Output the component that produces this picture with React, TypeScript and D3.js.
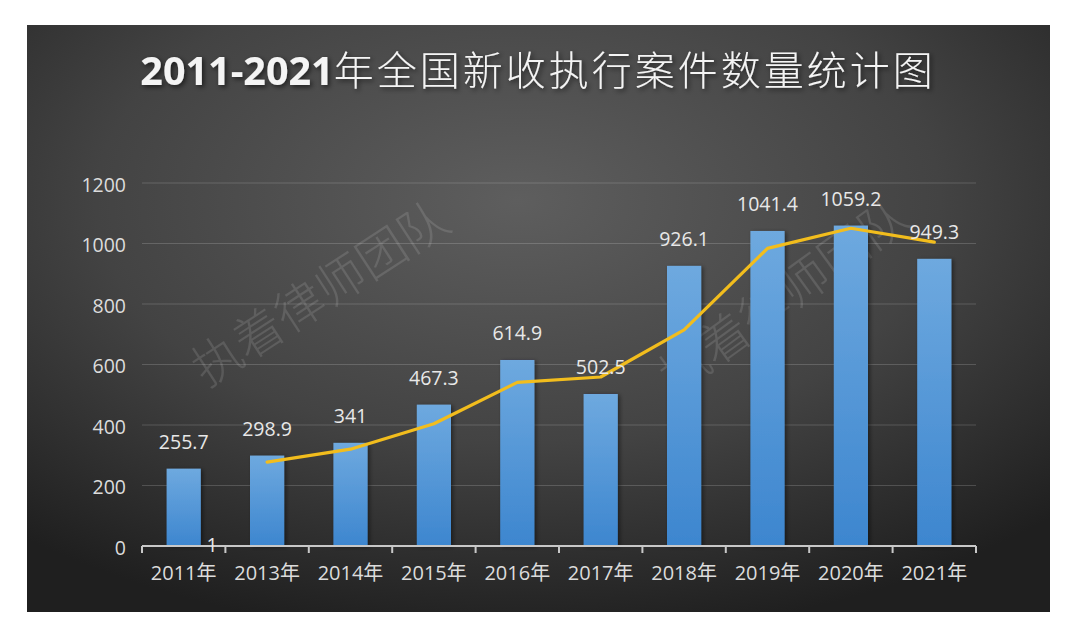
import React from "react";
import * as d3 from "d3";

const categories = ["2011年", "2013年", "2014年", "2015年", "2016年", "2017年", "2018年", "2019年", "2020年", "2021年"];
const caseValues = [255.7, 298.9, 341, 467.3, 614.9, 502.5, 926.1, 1041.4, 1059.2, 949.3];
const trendValues: (number | null)[] = [null, 277.3, 320, 404.1, 541.1, 558.7, 714.3, 983.8, 1050.3, 1004.3];
const yTicks = [0, 200, 400, 600, 800, 1000, 1200];
const titleNum = "2011-2021";
const titleCjk = "年全国新收执行案件数量统计图";
const watermark = "执着律师团队";

const W = 1080;
const H = 638;
const panel = { x: 27, y: 25, w: 1023, h: 587 };
const plot = { left: 142, right: 976, top: 183, bottom: 546 };

export default function App() {
  const x = d3.scaleBand<string>().domain(categories).range([plot.left, plot.right]).paddingInner(0).paddingOuter(0);
  const y = d3.scaleLinear().domain([0, 1200]).range([plot.bottom, plot.top]);
  const bw = x.bandwidth();
  const barW = bw * 0.41;
  const line = d3
    .line<[string, number | null]>()
    .defined((d) => d[1] !== null)
    .x((d) => (x(d[0]) as number) + bw / 2)
    .y((d) => y(d[1] as number));
  const pairs: [string, number | null][] = categories.map((c, i) => [c, trendValues[i]]);
  const tickXs = [...categories.map((c) => x(c) as number), plot.right];
  const labelFont = "'Open Sans', 'Noto Sans CJK SC', sans-serif";

  return (
    <svg width={W} height={H} style={{ position: "absolute", left: 0, top: 0, background: "#fff" }}>
      <defs>
        <radialGradient id="bg" cx="48%" cy="30%" r="75%" fx="48%" fy="30%">
          <stop offset="0%" stopColor="#5e5e5e" />
          <stop offset="55%" stopColor="#434343" />
          <stop offset="100%" stopColor="#1f1f1f" />
        </radialGradient>
        <linearGradient id="bar" x1="0" y1="0" x2="0" y2="1">
          <stop offset="0%" stopColor="#6ea9df" />
          <stop offset="100%" stopColor="#3d86cf" />
        </linearGradient>
        <filter id="tshadow" x="-10%" y="-20%" width="120%" height="150%">
          <feDropShadow dx="2" dy="2" stdDeviation="2.5" floodColor="#000" floodOpacity="0.6" />
        </filter>
        <filter id="bshadow" x="-30%" y="-10%" width="160%" height="120%">
          <feDropShadow dx="2" dy="1" stdDeviation="2" floodColor="#000" floodOpacity="0.45" />
        </filter>
      </defs>
      <rect x={panel.x} y={panel.y} width={panel.w} height={panel.h} fill="url(#bg)" />

      <text
        x={538}
        y={85}
        textAnchor="middle"
        fill="#f4f4f4"
        filter="url(#tshadow)"
        style={{ fontFamily: "'Noto Sans CJK SC', sans-serif" }}
      >
        <tspan fontSize={39.5} fontWeight="bold" style={{ fontFamily: "'Open Sans', sans-serif" }}>
          {titleNum}
        </tspan>
        <tspan fontSize={40} fontWeight={300} letterSpacing={3}>
          {titleCjk}
        </tspan>
      </text>

      {yTicks.map((t) => (
        <line key={"g" + t} x1={plot.left} x2={plot.right} y1={y(t)} y2={y(t)} stroke="rgba(255,255,255,0.17)" strokeWidth={1} />
      ))}

      {/* watermarks */}
      <text
        transform="translate(318,290) rotate(-33)"
        textAnchor="middle"
        dominantBaseline="central"
        fontSize={49}
        fontWeight={300}
        fill="rgba(255,255,255,0.12)"
        style={{ fontFamily: "'Noto Sans CJK SC', sans-serif" }}
      >
        {watermark}
      </text>
      <text
        transform="translate(782,292) rotate(-36)"
        textAnchor="middle"
        dominantBaseline="central"
        fontSize={49}
        fontWeight={300}
        fill="rgba(255,255,255,0.12)"
        style={{ fontFamily: "'Noto Sans CJK SC', sans-serif" }}
      >
        {watermark}
      </text>

      {categories.map((c, i) => (
        <rect
          key={"b" + c}
          x={(x(c) as number) + (bw - barW) / 2}
          y={y(caseValues[i])}
          width={barW}
          height={y(0) - y(caseValues[i])}
          fill="url(#bar)"
          filter="url(#bshadow)"
        />
      ))}

      {/* axis */}
      <line x1={plot.left} x2={plot.right} y1={plot.bottom} y2={plot.bottom} stroke="#c8c8c8" strokeWidth={2} />
      {tickXs.map((tx, i) => (
        <line key={"t" + i} x1={tx} x2={tx} y1={plot.bottom} y2={plot.bottom + 7} stroke="#c8c8c8" strokeWidth={2} />
      ))}

      <path d={line(pairs) || ""} fill="none" stroke="#f2bd1d" strokeWidth={3.2} strokeLinejoin="round" strokeLinecap="round" />

      {/* y tick labels */}
      {yTicks.map((t) => (
        <text
          key={"yl" + t}
          x={126}
          y={y(t) + 1}
          textAnchor="end"
          dominantBaseline="central"
          fontSize={19.5}
          fill="#dcdcdc"
          style={{ fontFamily: labelFont }}
        >
          {t}
        </text>
      ))}

      {/* x labels */}
      {categories.map((c) => (
        <text
          key={"xl" + c}
          x={(x(c) as number) + bw / 2}
          y={580}
          textAnchor="middle"
          fontSize={20}
          fill="#dcdcdc"
          style={{ fontFamily: labelFont }}
        >
          {c}
        </text>
      ))}

      {/* data labels */}
      {categories.map((c, i) => (
        <text
          key={"dl" + c}
          x={(x(c) as number) + bw / 2}
          y={y(caseValues[i]) - 20}
          textAnchor="middle"
          fontSize={19.5}
          fill="#e8e8e8"
          style={{ fontFamily: labelFont }}
        >
          {caseValues[i]}
        </text>
      ))}
      <text
        x={(x(categories[0]) as number) + bw * 0.84}
        y={y(0) + 6}
        textAnchor="middle"
        fontSize={19.5}
        fill="#e8e8e8"
        style={{ fontFamily: labelFont }}
      >
        1
      </text>
    </svg>
  );
}
